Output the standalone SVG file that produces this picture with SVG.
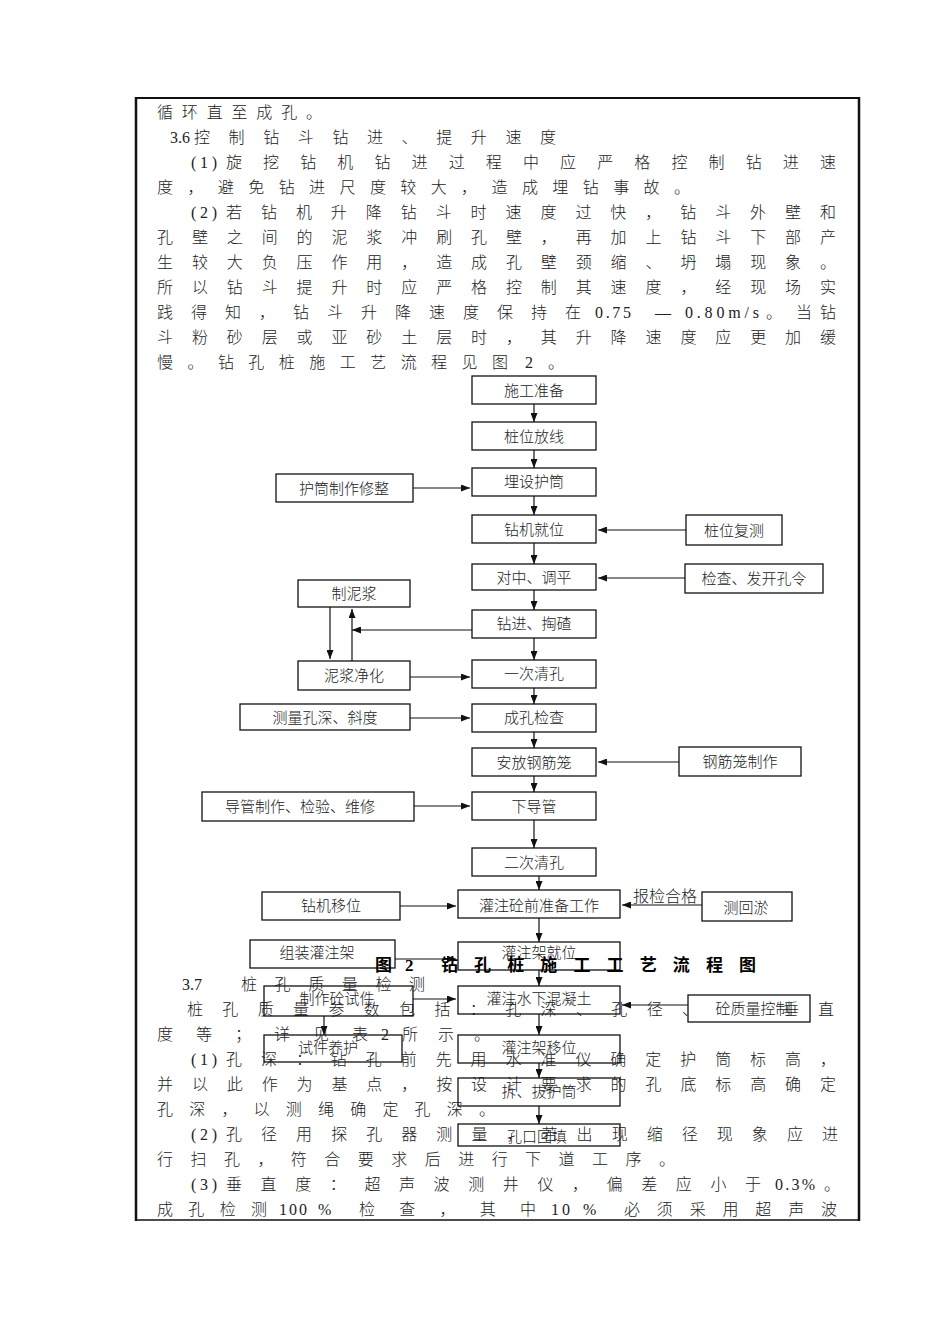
<svg xmlns="http://www.w3.org/2000/svg" width="950" height="1344" viewBox="0 0 950 1344">
<style>
.body{font-family:"Liberation Serif","Noto Sans CJK SC",serif;font-size:16px;font-weight:300;fill:#222}
.bx{fill:none;stroke:#111;stroke-width:1.3}
.lb{font-family:"Noto Sans CJK SC",sans-serif;font-size:15px;font-weight:300;fill:#222;text-anchor:middle;dominant-baseline:central}
.ln{stroke:#111;stroke-width:1.2;fill:none}
.title{font-family:"Liberation Serif","Noto Sans CJK SC",serif;font-size:17px;font-weight:bold;fill:#000}
</style>
<defs>
<marker id="ah" markerUnits="userSpaceOnUse" markerWidth="9" markerHeight="7" refX="9" refY="3.5" orient="auto">
<path d="M0,0 L9,3.5 L0,7 z" fill="#111"/>
</marker>
</defs>
<rect width="950" height="1344" fill="#fff"/>
<g id="frame">
<line x1="136" y1="98" x2="860" y2="98" stroke="#111" stroke-width="2"/>
<line x1="136" y1="97" x2="136" y2="1221" stroke="#111" stroke-width="2.5"/>
<line x1="859" y1="97" x2="859" y2="1221" stroke="#111" stroke-width="2.5"/>
<line x1="136" y1="1220" x2="860" y2="1220" stroke="#111" stroke-width="1.5"/>
</g>
<g id="bodytext">
<text class="body" x="157" y="118" textLength="165" lengthAdjust="spacing">循环直至成孔。</text>
<text class="body" x="170" y="143">3.6</text>
<text class="body" x="194" y="143" textLength="362" lengthAdjust="spacing">控制钻斗钻进、提升速度</text>
<text class="body" x="191" y="168" textLength="26" lengthAdjust="spacing">(1)</text>
<text class="body" x="226" y="168" textLength="610" lengthAdjust="spacing">旋挖钻机钻进过程中应严格控制钻进速</text>
<text class="body" x="157" y="193" textLength="533" lengthAdjust="spacing">度，避免钻进尺度较大，造成埋钻事故。</text>
<text class="body" x="191" y="218" textLength="26" lengthAdjust="spacing">(2)</text>
<text class="body" x="226" y="218" textLength="610" lengthAdjust="spacing">若钻机升降钻斗时速度过快，钻斗外壁和</text>
<text class="body" x="157" y="243" textLength="679" lengthAdjust="spacing">孔壁之间的泥浆冲刷孔壁，再加上钻斗下部产</text>
<text class="body" x="157" y="268" textLength="679" lengthAdjust="spacing">生较大负压作用，造成孔壁颈缩、坍塌现象。</text>
<text class="body" x="157" y="293" textLength="679" lengthAdjust="spacing">所以钻斗提升时应严格控制其速度，经现场实</text>
<text class="body" x="157" y="318" textLength="424" lengthAdjust="spacing">践得知，钻斗升降速度保持在</text>
<text class="body" x="595" y="318" textLength="36" lengthAdjust="spacing">0.75</text>
<text class="body" x="655" y="318">—</text>
<text class="body" x="685" y="318" textLength="74" lengthAdjust="spacing">0.80m/s</text>
<text class="body" x="766" y="318">。</text>
<text class="body" x="796" y="318" textLength="40" lengthAdjust="spacing">当钻</text>
<text class="body" x="157" y="343" textLength="679" lengthAdjust="spacing">斗粉砂层或亚砂土层时，其升降速度应更加缓</text>
<text class="body" x="157" y="368" textLength="351" lengthAdjust="spacing">慢。钻孔桩施工艺流程见图</text>
<text class="body" x="525" y="368">2</text>
<text class="body" x="548" y="368">。</text>
<text class="body" x="182" y="990">3.7</text>
<text class="body" x="241" y="990" textLength="184" lengthAdjust="spacing">桩孔质量检测</text>
<text class="body" x="187" y="1015" textLength="511" lengthAdjust="spacing">桩孔质量参数包括：孔深、孔径、</text>
<text class="body" x="783" y="1015" textLength="51" lengthAdjust="spacing">垂直</text>
<text class="body" x="157" y="1040" textLength="211" lengthAdjust="spacing">度等；详见表</text>
<text class="body" x="381" y="1040">2</text>
<text class="body" x="402" y="1040" textLength="88" lengthAdjust="spacing">所示。</text>
<text class="body" x="191" y="1065" textLength="26" lengthAdjust="spacing">(1)</text>
<text class="body" x="226" y="1065" textLength="610" lengthAdjust="spacing">孔深：钻孔前先用水准仪确定护筒标高，</text>
<text class="body" x="157" y="1090" textLength="679" lengthAdjust="spacing">并以此作为基点，按设计要求的孔底标高确定</text>
<text class="body" x="157" y="1115" textLength="338" lengthAdjust="spacing">孔深，以测绳确定孔深。</text>
<text class="body" x="191" y="1140" textLength="26" lengthAdjust="spacing">(2)</text>
<text class="body" x="226" y="1140" textLength="612" lengthAdjust="spacing">孔径用探孔器测量，若出现缩径现象应进</text>
<text class="body" x="157" y="1165" textLength="518" lengthAdjust="spacing">行扫孔，符合要求后进行下道工序。</text>
<text class="body" x="191" y="1190" textLength="26" lengthAdjust="spacing">(3)</text>
<text class="body" x="226" y="1190" textLength="535" lengthAdjust="spacing">垂直度：超声波测井仪，偏差应小于</text>
<text class="body" x="775" y="1190" textLength="40" lengthAdjust="spacing">0.3%</text>
<text class="body" x="824" y="1190">。</text>
<text class="body" x="157" y="1215" textLength="110" lengthAdjust="spacing">成孔检测</text>
<text class="body" x="279" y="1215" textLength="28" lengthAdjust="spacing">100</text>
<text class="body" x="318" y="1215">%</text>
<text class="body" x="359" y="1215" textLength="177" lengthAdjust="spacing">检查，其中</text>
<text class="body" x="551" y="1215" textLength="19" lengthAdjust="spacing">10</text>
<text class="body" x="583" y="1215">%</text>
<text class="body" x="624" y="1215" textLength="213" lengthAdjust="spacing">必须采用超声波</text>
</g>
<g id="connectors">
<line class="ln" x1="534" y1="404" x2="534" y2="422" marker-end="url(#ah)"/>
<line class="ln" x1="534" y1="450" x2="534" y2="468" marker-end="url(#ah)"/>
<line class="ln" x1="534" y1="496" x2="534" y2="515" marker-end="url(#ah)"/>
<line class="ln" x1="534" y1="543" x2="534" y2="564" marker-end="url(#ah)"/>
<line class="ln" x1="534" y1="590" x2="534" y2="610" marker-end="url(#ah)"/>
<line class="ln" x1="534" y1="638" x2="534" y2="660" marker-end="url(#ah)"/>
<line class="ln" x1="534" y1="688" x2="534" y2="704" marker-end="url(#ah)"/>
<line class="ln" x1="534" y1="732" x2="534" y2="748" marker-end="url(#ah)"/>
<line class="ln" x1="534" y1="776" x2="534" y2="792" marker-end="url(#ah)"/>
<line class="ln" x1="534" y1="820" x2="534" y2="848" marker-end="url(#ah)"/>
<line class="ln" x1="539" y1="876" x2="539" y2="890" marker-end="url(#ah)"/>
<line class="ln" x1="539" y1="918" x2="539" y2="942" marker-end="url(#ah)"/>
<line class="ln" x1="539" y1="970" x2="539" y2="986" marker-end="url(#ah)"/>
<line class="ln" x1="539" y1="1014" x2="539" y2="1035" marker-end="url(#ah)"/>
<line class="ln" x1="539" y1="1063" x2="539" y2="1078" marker-end="url(#ah)"/>
<line class="ln" x1="539" y1="1106" x2="539" y2="1124" marker-end="url(#ah)"/>
<line class="ln" x1="413" y1="488" x2="470" y2="488" marker-end="url(#ah)"/>
<line class="ln" x1="686" y1="530" x2="598" y2="530" marker-end="url(#ah)"/>
<line class="ln" x1="685" y1="578" x2="598" y2="578" marker-end="url(#ah)"/>
<line class="ln" x1="472" y1="630" x2="352" y2="630" marker-end="url(#ah)"/>
<line class="ln" x1="352" y1="661" x2="352" y2="609" marker-end="url(#ah)"/>
<line class="ln" x1="330" y1="607" x2="330" y2="659" marker-end="url(#ah)"/>
<line class="ln" x1="410" y1="677" x2="470" y2="677" marker-end="url(#ah)"/>
<line class="ln" x1="410" y1="718" x2="470" y2="718" marker-end="url(#ah)"/>
<line class="ln" x1="679" y1="762" x2="598" y2="762" marker-end="url(#ah)"/>
<line class="ln" x1="414" y1="806" x2="470" y2="806" marker-end="url(#ah)"/>
<line class="ln" x1="400" y1="906" x2="456" y2="906" marker-end="url(#ah)"/>
<line class="ln" x1="702" y1="905" x2="622" y2="905" marker-end="url(#ah)"/>
<line class="ln" x1="395" y1="959" x2="456" y2="959" marker-end="url(#ah)"/>
<line class="ln" x1="413" y1="999" x2="456" y2="999" marker-end="url(#ah)"/>
<line class="ln" x1="324" y1="1016" x2="324" y2="1035" marker-end="url(#ah)"/>
<line class="ln" x1="688" y1="1005" x2="622" y2="1005" marker-end="url(#ah)"/>
<text class="lb" x="665" y="895" style="font-size:16px">报检合格</text>
</g>
<g id="n1"><rect class="bx" x="472" y="376" width="124" height="28"/><text class="lb" x="534" y="389">施工准备</text></g>
<g id="n2"><rect class="bx" x="472" y="422" width="124" height="28"/><text class="lb" x="534" y="435">桩位放线</text></g>
<g id="n3"><rect class="bx" x="472" y="468" width="124" height="28"/><text class="lb" x="534" y="480">埋设护筒</text></g>
<g id="n4"><rect class="bx" x="472" y="515" width="124" height="28"/><text class="lb" x="534" y="528">钻机就位</text></g>
<g id="n5"><rect class="bx" x="472" y="564" width="124" height="26"/><text class="lb" x="534" y="576">对中、调平</text></g>
<g id="n6"><rect class="bx" x="472" y="610" width="124" height="28"/><text class="lb" x="534" y="622">钻进、掏碴</text></g>
<g id="n7"><rect class="bx" x="472" y="660" width="124" height="28"/><text class="lb" x="534" y="672">一次清孔</text></g>
<g id="n8"><rect class="bx" x="472" y="704" width="124" height="28"/><text class="lb" x="534" y="716">成孔检查</text></g>
<g id="n9"><rect class="bx" x="472" y="748" width="124" height="28"/><text class="lb" x="534" y="761">安放钢筋笼</text></g>
<g id="n10"><rect class="bx" x="472" y="792" width="124" height="28"/><text class="lb" x="534" y="805">下导管</text></g>
<g id="n11"><rect class="bx" x="472" y="848" width="124" height="28"/><text class="lb" x="534" y="861">二次清孔</text></g>
<g id="n12"><rect class="bx" x="458" y="890" width="162" height="28"/><text class="lb" x="539" y="904">灌注砼前准备工作</text></g>
<g id="n13"><rect class="bx" x="458" y="942" width="162" height="28"/><text class="lb" x="539" y="951">灌注架就位</text></g>
<g id="n14"><rect class="bx" x="458" y="986" width="162" height="28"/><text class="lb" x="539" y="997">灌注水下混凝土</text></g>
<g id="n15"><rect class="bx" x="458" y="1035" width="162" height="28"/><text class="lb" x="539" y="1046">灌注架移位</text></g>
<g id="n16"><rect class="bx" x="458" y="1078" width="162" height="28"/><text class="lb" x="539" y="1090">拆、拔护筒</text></g>
<g id="n17"><rect class="bx" x="458" y="1124" width="162" height="22"/><text class="lb" x="537" y="1135">孔口回填</text></g>
<g id="s1"><rect class="bx" x="276" y="474" width="137" height="28"/><text class="lb" x="344" y="487">护筒制作修整</text></g>
<g id="s2"><rect class="bx" x="686" y="515" width="96" height="30"/><text class="lb" x="734" y="529">桩位复测</text></g>
<g id="s3"><rect class="bx" x="685" y="564" width="138" height="29"/><text class="lb" x="754" y="577">检查、发开孔令</text></g>
<g id="s4"><rect class="bx" x="298" y="580" width="112" height="27"/><text class="lb" x="354" y="592">制泥浆</text></g>
<g id="s5"><rect class="bx" x="298" y="661" width="112" height="29"/><text class="lb" x="354" y="674">泥浆净化</text></g>
<g id="s6"><rect class="bx" x="240" y="704" width="170" height="26"/><text class="lb" x="325" y="716">测量孔深、斜度</text></g>
<g id="s7"><rect class="bx" x="679" y="747" width="122" height="29"/><text class="lb" x="740" y="760">钢筋笼制作</text></g>
<g id="s8"><rect class="bx" x="202" y="792" width="212" height="29"/><text class="lb" x="300" y="805">导管制作、检验、维修</text></g>
<g id="s9"><rect class="bx" x="262" y="892" width="138" height="28"/><text class="lb" x="331" y="904">钻机移位</text></g>
<g id="s10"><rect class="bx" x="702" y="892" width="90" height="29"/><text class="lb" x="746" y="906">测回淤</text></g>
<g id="s11"><rect class="bx" x="250" y="940" width="145" height="28"/><text class="lb" x="317" y="951">组装灌注架</text></g>
<g id="s12"><rect class="bx" x="264" y="986" width="149" height="30"/><text class="lb" x="337" y="997">制作砼试件</text></g>
<g id="s13"><rect class="bx" x="264" y="1035" width="138" height="27"/><text class="lb" x="328" y="1046">试件养护</text></g>
<g id="s14"><rect class="bx" x="688" y="995" width="122" height="27"/><text class="lb" x="753" y="1007">砼质量控制</text></g>
<g id="caption">
<text class="title" x="375" y="971">图</text>
<text class="title" x="405" y="971">2</text>
<text class="title" x="441" y="971" textLength="315" lengthAdjust="spacing">钻孔桩施工工艺流程图</text>
</g>
</svg>
